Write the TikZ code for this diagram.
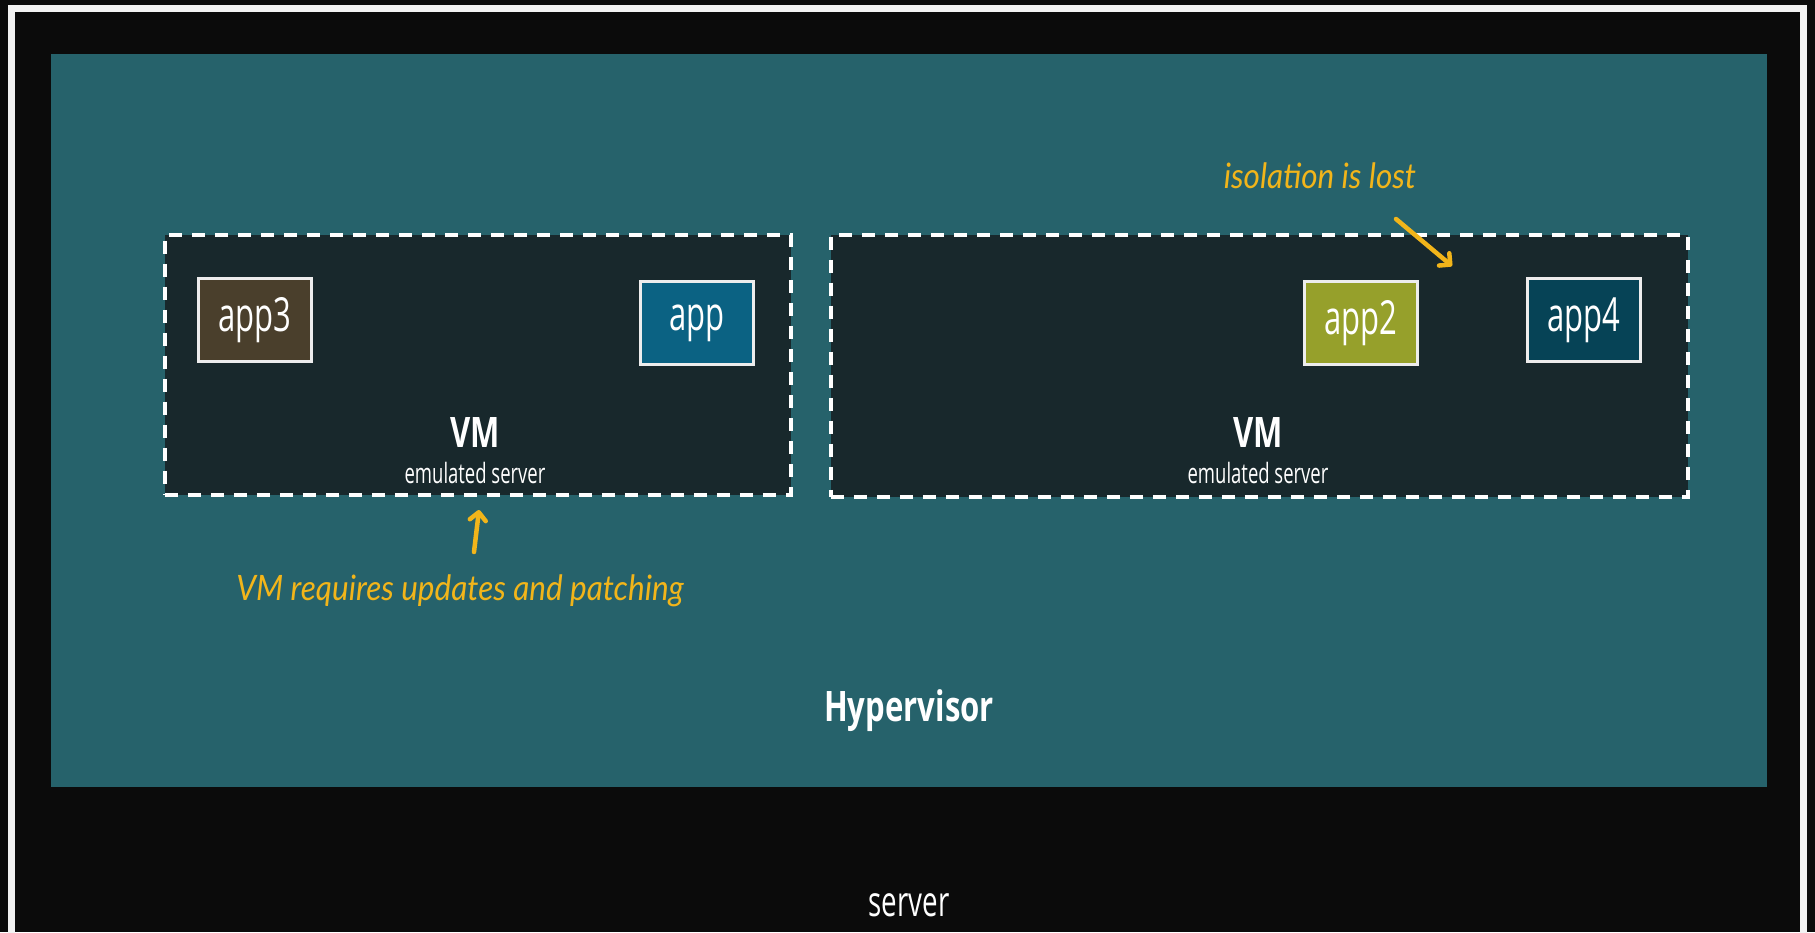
\documentclass[tikz,border=0pt]{standalone}
\usepackage{fontspec}
\setmainfont{Open Sans}[FakeStretch=0.66]
\newfontfamily\condbold{Open Sans}[FakeStretch=0.74]
\newfontfamily\handfont{Lato}[FakeStretch=0.9]
\usetikzlibrary{arrows.meta}

\definecolor{bgdark}{HTML}{0B0B0B}
\definecolor{hyperteal}{HTML}{26626B}
\definecolor{vmfill}{HTML}{18282C}
\definecolor{appbrown}{HTML}{4A3F2C}
\definecolor{appblue}{HTML}{0B6283}
\definecolor{appolive}{HTML}{96A02B}
\definecolor{appnavy}{HTML}{064356}
\definecolor{notey}{HTML}{F2B51A}

\tikzset{
  vmbox/.style={draw=white, fill=vmfill, line width=3.5pt,
    dash pattern=on 13pt off 10pt, inner sep=0pt},
  appbox/.style={draw=white!93!black, line width=3pt, inner sep=0pt,
    minimum width=113pt, minimum height=83pt, text=white,
    font=\fontsize{47}{50}\selectfont},
  vmtitle/.style={text=white, font=\condbold\bfseries\fontsize{42}{46}\selectfont},
  vmsub/.style={text=white, font=\fontsize{28}{30}\selectfont},
  note/.style={text=notey, font=\handfont\itshape\fontsize{35}{38}\selectfont},
  notearrow/.style={draw=notey, line width=4.5pt, line cap=round,
    -{Straight Barb[length=8pt,width=16pt,line width=4.5pt,round]}},
}

\begin{document}
\begin{tikzpicture}[x=1pt,y=-1pt]
  % page
  \clip (0,0) rectangle (1815,932);
  \fill[bgdark] (0,0) rectangle (1815,932);
  \draw[white!95!black, line width=7pt] (11.5,8.5) rectangle (1803,960);

  % hypervisor layer
  \node[fill=hyperteal, inner sep=0pt, minimum width=1716pt, minimum height=733pt,
        anchor=north west] (hyper) at (51,54) {};
  \node[text=white, font=\condbold\bfseries\fontsize{42}{46}\selectfont] (hlabel) at (909,711) {Hypervisor};

  % virtual machines
  \node[vmbox, minimum width=626pt, minimum height=260pt, anchor=north west] (vm1) at (163,233) {};
  \node[vmbox, minimum width=857pt, minimum height=262pt, anchor=north west] (vm2) at (829,233) {};

  \node[vmtitle] (vm1t) at (475,433) {VM};
  \node[vmsub] (vm1s) at (475,473) {emulated server};
  \node[vmtitle] (vm2t) at (1258,433) {VM};
  \node[vmsub] (vm2s) at (1258,473) {emulated server};

  % applications
  \node[appbox, fill=appbrown] (app3) at (255,320) {app3};
  \node[appbox, fill=appblue] (app) at (697,323) {app};
  \node[appbox, fill=appolive] (app2) at (1361,323) {app2};
  \node[appbox, fill=appnavy] (app4) at (1584,320) {app4};

  % annotations
  \node[note] (iso) at (1320,176) {isolation is lost};
  \coordinate (isoS) at (1396,219);
  \coordinate (isoE) at (1452,266);
  \draw[notearrow] (isoS) -- (isoE);

  \node[note] (patch) at (460,591) {VM requires updates and patching};
  \coordinate (patchS) at (474,552);
  \coordinate (patchE) at (479,510);
  \draw[notearrow] (patchS) -- (patchE);

  % physical host
  \node[text=white, font=\fontsize{42}{46}\selectfont] (server) at (909,905) {server};
\end{tikzpicture}
\end{document}
